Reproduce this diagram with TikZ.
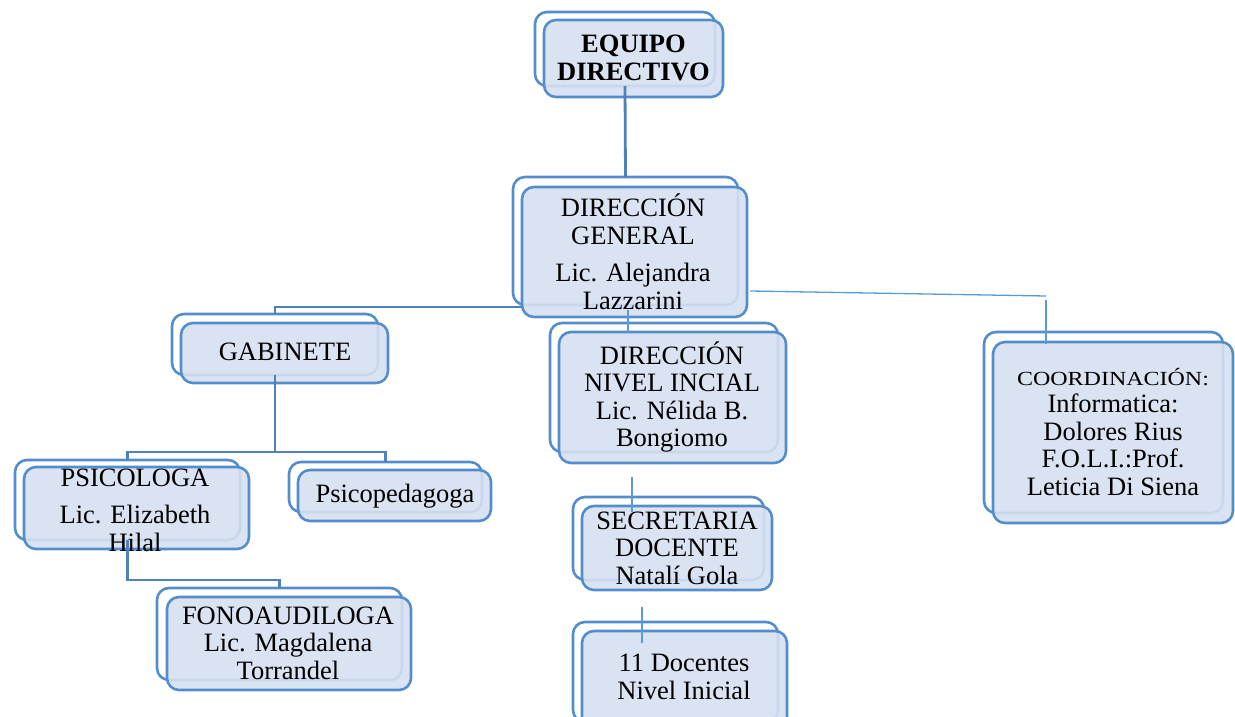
\documentclass[tikz,border=0pt]{standalone}
\usepackage{fontspec}
\usepackage{graphicx}
\setmainfont{Liberation Serif}
\usetikzlibrary{calc}
\definecolor{boxblue}{RGB}{84,141,204}
\definecolor{boxfill}{RGB}{214,224,241}
\definecolor{linkblue}{RGB}{79,129,189}
\definecolor{thinblue}{RGB}{91,155,213}
\begin{document}
\begin{tikzpicture}[x=1pt,y=-1pt,
  backbox/.style={draw=boxblue, line width=2.6pt, rounded corners=12pt, fill=white, inner sep=0pt, outer sep=0pt},
  frontbox/.style={draw=boxblue, line width=2.6pt, rounded corners=12pt, fill=boxfill, fill opacity=0.9, inner sep=0pt, outer sep=0pt},
  lbl/.style={align=center, font=\fontsize{26.5}{27.5}\selectfont, inner sep=0pt, text=black},
  mainlink/.style={draw=linkblue, line width=2.2pt},
  thinlink/.style={draw=thinblue, line width=1.3pt}]
\useasboundingbox (0,0) rectangle (1235,717);
\begin{scope}
\clip (0,0) rectangle (1235,717);
% EQUIPO DIRECTIVO
\node[backbox, minimum width=180pt, minimum height=74pt] (eqb) at (625,49) {};
\node[frontbox, minimum width=179pt, minimum height=77pt] (eqf) at (633.5,58.5) {};
\node[lbl, font=\fontsize{26.5}{28}\selectfont\bfseries] (eqt) at (633.5,58) {EQUIPO\\DIRECTIVO};
% DIRECCION GENERAL
\node[backbox, minimum width=225pt, minimum height=128pt] (dgb) at (625.5,241) {};
\node[frontbox, minimum width=225pt, minimum height=130pt] (dgf) at (634.5,252) {};
\node[lbl] (dgt) at (633,252) {DIRECCIÓN\\GENERAL\\[10pt]Lic. Alejandra\\Lazzarini};
% GABINETE
\node[backbox, minimum width=206pt, minimum height=61pt] (gabb) at (275,344.5) {};
\node[frontbox, minimum width=207pt, minimum height=60pt] (gabf) at (284.5,353) {};
\node[lbl] (gabt) at (285,352) {GABINETE};
% PSICOLOGA
\node[backbox, minimum width=225pt, minimum height=80pt] (psib) at (127.5,500) {};
\node[frontbox, minimum width=225pt, minimum height=82pt] (psif) at (136.5,508) {};
\node[lbl] (psit) at (135,510) {PSICOLOGA\\[10pt]Lic. Elizabeth\\Hilal};
% Psicopedagoga
\node[backbox, minimum width=193pt, minimum height=50pt] (pspb) at (385.5,487) {};
\node[frontbox, minimum width=193pt, minimum height=51pt] (pspf) at (394.5,495.5) {};
\node[lbl] (pspt) at (395,496) {Psicopedagoga};
% FONOAUDILOGA
\node[backbox, minimum width=245pt, minimum height=92pt] (fonob) at (279.5,634) {};
\node[frontbox, minimum width=244pt, minimum height=93pt] (fonof) at (289,643.5) {};
\node[lbl] (fonot) at (288,643) {FONOAUDILOGA\\Lic. Magdalena\\Torrandel};
% DIRECCION NIVEL INICIAL
\node[backbox, minimum width=228pt, minimum height=129pt] (nivb) at (664,387.5) {};
\node[frontbox, minimum width=227pt, minimum height=131pt] (nivf) at (672.5,397.5) {};
\node[lbl] (nivt) at (672,397) {DIRECCIÓN\\NIVEL INCIAL\\Lic. Nélida B.\\Bongiomo};
% SECRETARIA DOCENTE
\node[backbox, minimum width=191pt, minimum height=83pt] (secb) at (668.5,538.5) {};
\node[frontbox, minimum width=190pt, minimum height=84pt] (secf) at (677,548) {};
\node[lbl] (sect) at (677,548) {SECRETARIA\\DOCENTE\\Natalí Gola};
% 11 DOCENTES
\node[backbox, minimum width=205pt, minimum height=100pt] (docb) at (675.5,672) {};
\node[frontbox, minimum width=205pt, minimum height=99pt] (docf) at (684.5,680.5) {};
\node[lbl] (doct) at (684,677) {11 Docentes\\Nivel Inicial};
% COORDINACION
\node[backbox, minimum width=239pt, minimum height=181pt] (coob) at (1103.5,422.5) {};
\node[frontbox, minimum width=240pt, minimum height=181pt] (coof) at (1113,432.5) {};
\node[lbl] (coot) at (1113,432) {{\fontsize{20}{27.5}\selectfont\scalebox{1.2}[1]{COORDINACIÓN:}}\\Informatica:\\Dolores Rius\\F.O.L.I.:Prof.\\Leticia Di Siena};
% connectors
\coordinate (gabbus) at (275,452);
\coordinate (dgnivA) at (628,310);
\coordinate (dgnivB) at (628,332);
\coordinate (nivsecA) at (632,477);
\coordinate (nivsecB) at (632,512);
\coordinate (secdocA) at (642,607);
\coordinate (secdocB) at (642,643);
\coordinate (dgcooA) at (750,291);
\coordinate (dgcooB) at (1046,296);
\coordinate (dgcooC) at (1046,300);
\coordinate (dgcooD) at (1046,344);
\draw[mainlink, line width=2.8pt] (eqb.south) -- (dgb.north);
\draw[mainlink] (gabb.north) |- ($(dgf.south west)+(0,-10)$);
\draw[mainlink] (gabb.south) -- (gabbus);
\draw[mainlink] (psib.north) |- (gabbus) -| (pspb.north);
\draw[mainlink] (psib.south) -- ++(0,40) -| (fonob.north);
\draw[thinlink] (dgnivA) -- (dgnivB);
\draw[thinlink] (nivsecA) -- (nivsecB);
\draw[thinlink] (secdocA) -- (secdocB);
\draw[thinlink] (dgcooA) -- (dgcooB);
\draw[thinlink] (dgcooC) -- (dgcooD);
\end{scope}
\end{tikzpicture}
\end{document}
